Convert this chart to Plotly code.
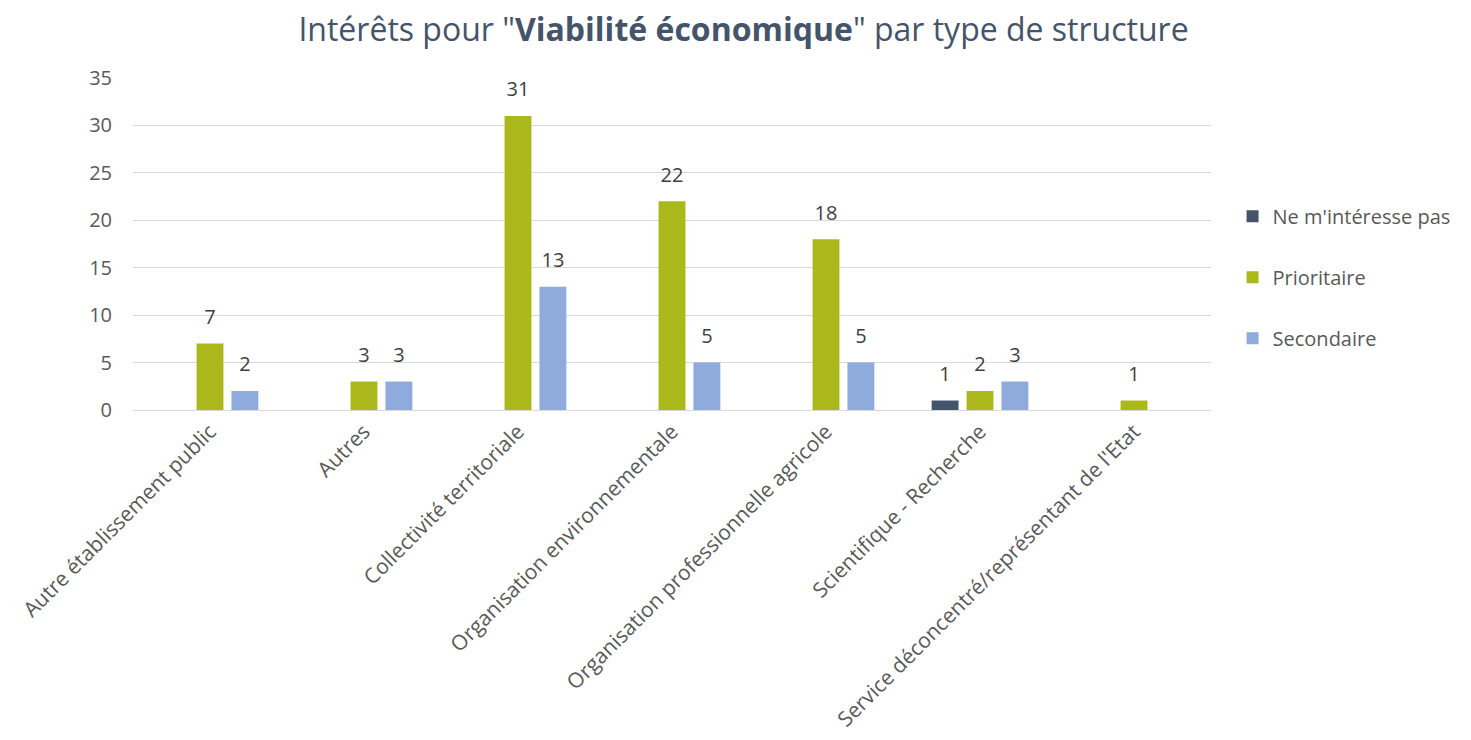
import plotly.graph_objects as go

categories = [
    "Autre établissement public",
    "Autres",
    "Collectivité territoriale",
    "Organisation environnementale",
    "Organisation professionnelle agricole",
    "Scientifique - Recherche",
    "Service déconcentré/représentant de l'Etat",
]
ne_minteresse_pas = [None, None, None, None, None, 1, None]
prioritaire = [7, 3, 31, 22, 18, 2, 1]
secondaire = [2, 3, 13, 5, 5, 3, None]

series = [
    ("Ne m'intéresse pas", ne_minteresse_pas, "#44546A"),
    ("Prioritaire", prioritaire, "#AAB81B"),
    ("Secondaire", secondaire, "#8FAADC"),
]

FONT = "Open Sans, Carlito, Calibri, sans-serif"

fig = go.Figure()
for i, (name, vals, col) in enumerate(series):
    fig.add_trace(go.Bar(
        name=name, x=categories, y=vals, marker_color=col,
        marker_line_width=0, offsetgroup=str(i),
        legendgroup=str(i), hoverinfo="x+y+name",
    ))
# value labels, placed in the same grouped slots as the bars
for i, (name, vals, col) in enumerate(series):
    fig.add_trace(go.Scatter(
        x=categories, y=vals, mode="markers+text", offsetgroup=str(i),
        text=[("" if v is None else str(v)) for v in vals],
        textposition="top center", cliponaxis=False,
        marker=dict(size=22, opacity=0, color=col),
        textfont=dict(size=20, color="#404040", family=FONT),
        showlegend=False, hoverinfo="skip", legendgroup=str(i),
    ))

fig.update_layout(
    width=1471, height=740,
    paper_bgcolor="white", plot_bgcolor="white",
    margin=dict(l=125, r=268, t=70, b=338),
    barmode="group", bargap=0.32, bargroupgap=0.23,
    scattermode="group", scattergap=0.32,
    title=dict(
        text='Intérêts pour "<b>Viabilité économique</b>" par type de structure',
        x=0.5, xanchor="center", y=0.970, yanchor="middle",
        font=dict(size=32, color="#44546A", family=FONT),
    ),
    font=dict(family=FONT, color="#595959", size=18),
    legend=dict(
        x=1.02, xanchor="left", y=0.40, yanchor="middle",
        font=dict(size=20, color="#595959", family=FONT),
        tracegroupgap=32, itemwidth=30,
    ),
    showlegend=True,
)
fig.update_yaxes(
    range=[0, 35], dtick=5, showgrid=True, gridcolor="#D9D9D9", gridwidth=1,
    zeroline=True, zerolinecolor="#D9D9D9", zerolinewidth=1,
    tickfont=dict(size=20, color="#595959", family=FONT), ticks="",
    showline=False, automargin=False, ticklabelstandoff=20,
)
fig.update_xaxes(
    tickangle=-45, tickfont=dict(size=21, color="#595959", family=FONT),
    showline=True, linecolor="#D9D9D9", ticks="", automargin=False,
)

fig.write_html("out.html")
